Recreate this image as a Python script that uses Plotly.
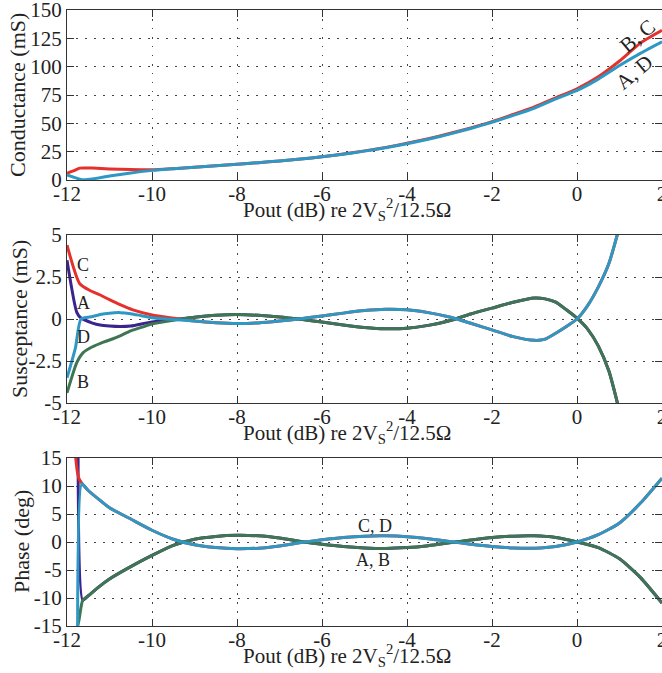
import plotly.graph_objects as go
from plotly.subplots import make_subplots

# ---------------- data ----------------
x_ticks = [-12, -10, -8, -6, -4, -2, 0, 2]

# Conductance (mS)
cond_x = [-12, -11.85, -11.7, -11.6, -11.4, -11, -10.5, -10, -9.5, -9, -8.5, -8, -7.5, -7, -6.5,
          -6, -5.5, -5, -4.5, -4, -3.5, -3, -2.5, -2, -1.5, -1, -0.5, 0, 0.5, 1, 1.5, 2]
cond_AD = [4.4, 2.5, 0.8, 0.3, 1.0, 3.5, 6.2, 8.5, 10, 11.2, 12.5, 13.8, 15.3, 16.8, 18.5,
           20.5, 22.8, 25.5, 28.5, 32, 36, 40.5, 45.5, 51, 57, 63.5, 71.5, 79, 89, 101, 112, 122]
cond_BC = [6, 8, 10.5, 10.7, 10.5, 9.8, 9.2, 9.0, 10.0, 11.2, 12.5, 13.8, 15.3, 16.8, 18.5,
           20.5, 22.9, 25.7, 28.8, 32.4, 36.5, 41, 46, 51.5, 57.8, 64.5, 72.5, 80.5, 91, 105, 121, 132]

# Susceptance (mS)
sus_tail_x = [-9, -8.5, -8, -7.5, -7, -6.5, -6, -5.5, -5, -4.5, -4, -3.5, -3, -2.5, -2, -1.5,
              -1, -0.75, -0.5, -0.25, 0, 0.25, 0.5, 0.75, 1.0]
sus_D_tail = [-0.12, -0.22, -0.27, -0.23, -0.12, 0.02, 0.18, 0.35, 0.5, 0.58, 0.55, 0.38, 0.12,
              -0.25, -0.65, -1.05, -1.27, -1.2, -0.85, -0.45, 0.0, 0.8, 1.9, 3.3, 5.5]
sus_B_tail = [0.1, 0.22, 0.27, 0.22, 0.12, -0.02, -0.18, -0.35, -0.5, -0.58, -0.55, -0.38, -0.1,
              0.3, 0.65, 1.0, 1.25, 1.2, 1.0, 0.55, 0.05, -0.6, -1.6, -3.1, -5.5]
sus_A_head_x = [-12, -11.77, -11.67, -11.4, -11.22, -11, -10.75, -10.5, -10, -9.5]
sus_A_head = [3.5, 0.4, 0.06, -0.24, -0.36, -0.42, -0.45, -0.42, -0.17, -0.05]
sus_B_head_x = [-12, -11.77, -11.62, -11.4, -11.2, -11, -10.75, -10.5, -10.25, -10, -9.5]
sus_B_head = [-4.4, -2.6, -2.0, -1.65, -1.43, -1.25, -1.0, -0.7, -0.5, -0.3, -0.08]
sus_C_head_x = [-12, -11.7, -11.46, -11.22, -11, -10.75, -10.45, -10, -9.5]
sus_C_head = [4.4, 2.1, 1.7, 1.43, 1.15, 0.85, 0.54, 0.24, 0.05]
sus_D_head_x = [-12, -11.8, -11.67, -11.4, -11.22, -11, -10.75, -10.5, -10.25, -10, -9.5]
sus_D_head = [-3.5, -1.7, 0.0, 0.15, 0.27, 0.35, 0.38, 0.32, 0.2, 0.08, -0.03]

# Phase (deg)
ph_tail_x = [-11.5, -11.25, -11, -10.5, -10, -9.5, -9, -8.5, -8, -7.5, -7, -6.5, -6, -5.5, -5,
             -4.5, -4, -3.5, -3, -2.5, -2, -1.5, -1, -0.5, 0, 0.5, 1, 1.5, 2]
ph_CD_tail = [9.2, 7.6, 6.1, 4.1, 2.1, 0.5, -0.5, -1.0, -1.2, -1.1, -0.7, -0.1, 0.4, 0.8, 1.05,
              1.1, 0.95, 0.6, 0.1, -0.4, -0.8, -1.05, -1.1, -0.8, 0.0, 1.3, 3.4, 7.0, 11.4]
ph_AB_tail = [-9.6, -8.0, -6.6, -4.4, -2.4, -0.6, 0.5, 1.0, 1.2, 1.1, 0.7, 0.1, -0.4, -0.8, -1.05,
              -1.15, -1.0, -0.65, -0.15, 0.35, 0.8, 1.05, 1.1, 0.8, 0.0, -1.0, -3.0, -6.4, -10.9]
ph_A_head_x = [-11.74, -11.63]
ph_A_head = [20, -10.4]
ph_B_head_x = [-11.84, -11.72, -11.63]
ph_B_head = [-18, -14, -10.4]
ph_C_head_x = [-11.83, -11.80, -11.76, -11.71, -11.63]
ph_C_head = [18, 15.5, 12.7, 11.2, 10.3]
ph_D_head_x = [-11.75, -11.65]
ph_D_head = [-17, 10.4]

# ---------------- style ----------------
RED = '#E5312B'
PURPLE = '#3B2390'
GREEN = '#3F7552'
CYAN = '#2E98C4'
FONT = 'Liberation Serif, Times New Roman, serif'
LW = 3

fig = make_subplots(rows=3, cols=1)

def add(row, x, y, color):
    fig.add_trace(go.Scatter(x=x, y=y, mode='lines',
                             line=dict(color=color, width=LW, shape='spline', smoothing=0.6),
                             showlegend=False, hoverinfo='skip'), row=row, col=1)

# Conductance
add(1, cond_x, cond_BC, RED)
add(1, cond_x, cond_AD, CYAN)
# Susceptance
add(2, sus_A_head_x + sus_tail_x, sus_A_head + sus_B_tail, PURPLE)
add(2, sus_C_head_x + sus_tail_x, sus_C_head + sus_D_tail, RED)
add(2, sus_B_head_x + sus_tail_x, sus_B_head + sus_B_tail, GREEN)
add(2, sus_D_head_x + sus_tail_x, sus_D_head + sus_D_tail, CYAN)
# Phase
add(3, ph_A_head_x + ph_tail_x, ph_A_head + ph_AB_tail, PURPLE)
add(3, ph_C_head_x + ph_tail_x, ph_C_head + ph_CD_tail, RED)
add(3, ph_B_head_x + ph_tail_x, ph_B_head + ph_AB_tail, GREEN)
add(3, ph_D_head_x + ph_tail_x, ph_D_head + ph_CD_tail, CYAN)

axis_common = dict(
    showline=True, linecolor='#333', linewidth=1, mirror='allticks',
    ticks='inside', ticklen=7, tickcolor='#333', tickwidth=1,
    showgrid=True, gridcolor='#444', gridwidth=1.3, griddash='1.5px,7.5px',
    zeroline=False, tickfont=dict(family=FONT, size=21, color='#222'),
    ticklabeloverflow='allow', automargin=False,
)

domains = [[0.7240, 1.0], [0.3620, 0.6347], [0.0, 0.2727]]
y_ranges = [[0, 150], [-5, 5], [-15, 15]]
y_ticks = [[0, 25, 50, 75, 100, 125, 150], [-5, -2.5, 0, 2.5, 5], [-15, -10, -5, 0, 5, 10, 15]]
y_titles = ['Conductance (mS)', 'Susceptance (mS)', 'Phase (deg)']
y_title_shift = [-50, -48, -46]

for i in range(3):
    xa = 'xaxis' if i == 0 else f'xaxis{i+1}'
    ya = 'yaxis' if i == 0 else f'yaxis{i+1}'
    fig.layout[xa].update(range=[-12, 2], tickvals=x_ticks, ticktext=[str(v) for v in x_ticks],
                          anchor='y' if i == 0 else f'y{i+1}', ticklabelstandoff=-5,
                          **axis_common)
    fig.layout[ya].update(range=y_ranges[i], tickvals=y_ticks[i], domain=domains[i],
                          ticktext=[('%g' % v) for v in y_ticks[i]], **axis_common)
    xr = 'x domain' if i == 0 else f'x{i+1} domain'
    yr = 'y domain' if i == 0 else f'y{i+1} domain'
    fig.add_annotation(xref=xr, yref=yr, x=0.5, y=0, yshift=-29, xshift=-18, showarrow=False,
                       xanchor='center', yanchor='middle',
                       text='Pout (dB) re 2V<sub>S</sub><sup>2</sup>/12.5Ω',
                       font=dict(family=FONT, size=21, color='#222'))
    fig.add_annotation(xref=xr, yref=yr, x=0, y=0.5, xshift=y_title_shift[i], showarrow=False,
                       xanchor='center', yanchor='middle', textangle=-90,
                       text=y_titles[i], font=dict(family=FONT, size=22, color='#222'))

lab_font = dict(family=FONT, size=18, color='#222')
big_lab_font = dict(family=FONT, size=21, color='#222')
# Conductance curve labels
fig.add_annotation(xref='x', yref='y', x=1.42, y=127.5, text='B, C', textangle=-40,
                   showarrow=False, font=big_lab_font)
fig.add_annotation(xref='x', yref='y', x=1.36, y=95, text='A, D', textangle=-40,
                   showarrow=False, font=big_lab_font)
# Susceptance labels
for t, yy in [('C', 3.2), ('A', 0.95), ('D', -1.1), ('B', -3.75)]:
    fig.add_annotation(xref='x2', yref='y2', x=-11.62, y=yy, text=t, showarrow=False, font=lab_font)
# Phase labels
fig.add_annotation(xref='x3', yref='y3', x=-4.75, y=2.9, text='C, D', showarrow=False, font=lab_font)
fig.add_annotation(xref='x3', yref='y3', x=-4.8, y=-3.3, text='A, B', showarrow=False, font=lab_font)

fig.update_layout(
    width=662, height=673,
    margin=dict(l=67, r=0, t=10, b=47, autoexpand=False),
    paper_bgcolor='white', plot_bgcolor='white',
    font=dict(family=FONT, color='#222'),
)

fig.write_html('out.html')
